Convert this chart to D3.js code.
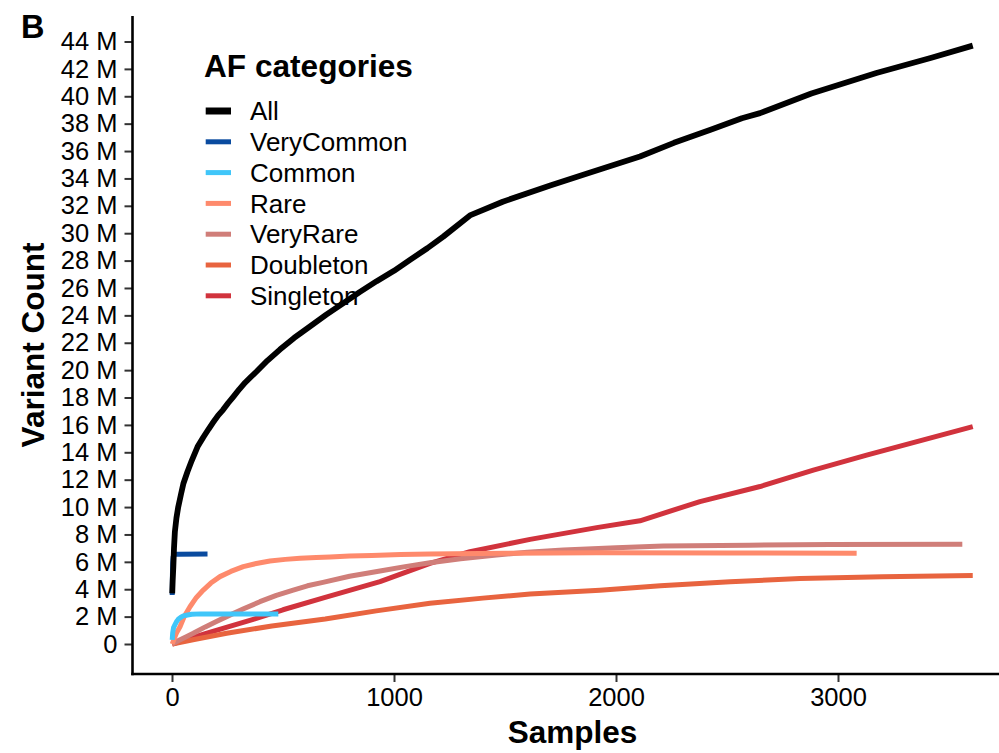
<!DOCTYPE html>
<html>
<head>
<meta charset="utf-8">
<script src="https://cdn.jsdelivr.net/npm/d3@7"></script>
<style>
  body { margin: 0; background: #fff; }
  svg { font-family: "Liberation Sans", Arial, Helvetica, sans-serif; }
</style>
</head>
<body>
<div id="chart"></div>
<script>
// AF category names (legend order) and their colours
const categories = ["All", "VeryCommon", "Common", "Rare", "VeryRare", "Doubleton", "Singleton"];
const colors = ["#000000", "#0a4b9f", "#40c6f9", "#fe8a6c", "#d07e79", "#e8643f", "#d1333d"];

// [samples, variant count in millions]
const allPts = [[1,3.7],[3,4.6],[6,5.65],[9,7.0],[13,8.2],[20,9.2],[28,10.0],[40,10.9],[51,11.7],
  [70,12.6],[89,13.4],[115,14.4],[141,15.1],[165,15.7],[186,16.2],[208,16.7],[230,17.1],[253,17.6],
  [276,18.05],[303,18.6],[330,19.1],[355,19.5],[381,19.9],[430,20.7],[486,21.5],[550,22.35],
  [622,23.2],[695,24.05],[772,24.9],[845,25.7],[922,26.5],[1000,27.25],[1072,28.05],[1150,28.9],
  [1222,29.75],[1342,31.3],[1490,32.3],[1707,33.5],[1877,34.4],[2108,35.6],[2261,36.6],[2426,37.55],
  [2567,38.4],[2649,38.77],[2880,40.2],[3173,41.7],[3417,42.8],[3607,43.7]];
const veryCommonPts = [[1,3.58],[2,5.0],[3,5.9],[5,6.35],[8,6.5],[14,6.55],[30,6.56],[160,6.57]];
const commonPts = [[1,0.3],[3,0.8],[7,1.2],[13,1.4],[20,1.62],[28,1.8],[40,1.95],[51,2.05],[70,2.12],
  [89,2.17],[130,2.2],[250,2.2],[479,2.19]];
const rarePts = [[1,0],[10,0.4],[20,0.8],[36,1.26],[55,2.0],[81,2.72],[110,3.4],[141,3.94],[175,4.45],
  [216,4.92],[265,5.3],[321,5.65],[380,5.88],[441,6.06],[510,6.18],[577,6.26],[650,6.32],[712,6.36],
  [800,6.42],[900,6.47],[1030,6.53],[1162,6.57],[1500,6.63],[1913,6.67],[2500,6.65],[3084,6.63]];
const veryRarePts = [[1,0],[30,0.25],[60,0.5],[96,0.78],[150,1.25],[200,1.65],[246,2.0],[320,2.55],
  [396,3.09],[470,3.55],[546,3.94],[610,4.25],[680,4.5],[800,4.95],[937,5.33],[1050,5.65],[1162,5.93],
  [1300,6.22],[1462,6.5],[1600,6.7],[1763,6.86],[2000,7.03],[2213,7.15],[2600,7.22],[2964,7.26],
  [3560,7.29]];
const doubletonPts = [[1,0],[100,0.33],[246,0.78],[450,1.32],[690,1.82],[920,2.42],[1162,2.97],
  [1400,3.35],[1613,3.65],[1928,3.93],[2200,4.25],[2514,4.55],[2829,4.78],[3200,4.92],[3607,5.0]];
const singletonPts = [[1,0],[150,0.75],[366,1.8],[500,2.5],[690,3.4],[937,4.55],[1162,5.89],[1342,6.74],
  [1613,7.64],[1913,8.5],[2108,9.0],[2378,10.4],[2649,11.5],[2889,12.7],[3129,13.8],[3607,15.87]];

const seriesPts = [allPts, veryCommonPts, commonPts, rarePts, veryRarePts, doubletonPts, singletonPts];

const xTicks = [0, 1000, 2000, 3000];
const yTicks = d3.range(0, 45, 2);

const width = 999, height = 753;
const panel = {left: 132.5, right: 999, top: 16, bottom: 674};

const svg = d3.select("#chart").append("svg")
  .attr("width", width)
  .attr("height", height);

const x = d3.scaleLinear().domain([0, 3000]).range([172, 838]);
const y = d3.scaleLinear().domain([0, 44]).range([644, 41.5]);

// lines, drawn last-category first so "All" ends up on top
const line = d3.line()
  .x(d => x(d[0]))
  .y(d => y(d[1]));

const series = categories.map((name, i) => ({name, color: colors[i], pts: seriesPts[i]}));

svg.append("g")
  .selectAll("path")
  .data(series.slice().reverse())
  .join("path")
  .attr("fill", "none")
  .attr("stroke", d => d.color)
  .attr("stroke-width", d => d.name === "All" ? 5.8 : 5)
  .attr("stroke-linejoin", "round")
  .attr("d", d => line(d.pts));

// y axis
const yAxis = svg.append("g")
  .attr("transform", `translate(${panel.left},0)`)
  .call(d3.axisLeft(y).tickValues(yTicks).tickSize(8).tickPadding(7)
    .tickFormat(d => d === 0 ? "0" : d + " M"));
yAxis.select(".domain").remove();
yAxis.selectAll(".tick line").attr("stroke", "#333").attr("stroke-width", 2);
yAxis.selectAll(".tick text")
  .attr("fill", "#000")
  .style("font-size", "25.5px");

// x axis
const xAxis = svg.append("g")
  .attr("transform", `translate(0,${panel.bottom})`)
  .call(d3.axisBottom(x).tickValues(xTicks).tickSize(8).tickPadding(6).tickFormat(d3.format("d")));
xAxis.select(".domain").remove();
xAxis.selectAll(".tick line").attr("stroke", "#333").attr("stroke-width", 2);
xAxis.selectAll(".tick text")
  .attr("fill", "#000")
  .style("font-size", "25.5px");

// axis lines (theme_classic)
svg.append("line")
  .attr("x1", panel.left).attr("x2", panel.left)
  .attr("y1", panel.top).attr("y2", panel.bottom + 1.2)
  .attr("stroke", "#000").attr("stroke-width", 2.6);
svg.append("line")
  .attr("x1", panel.left - 1.3).attr("x2", panel.right)
  .attr("y1", panel.bottom).attr("y2", panel.bottom)
  .attr("stroke", "#000").attr("stroke-width", 2.6);

// axis titles
svg.append("text")
  .attr("transform", "translate(43.5,345) rotate(-90)")
  .attr("text-anchor", "middle")
  .style("font-size", "31.5px")
  .style("font-weight", "bold")
  .text("Variant Count");

svg.append("text")
  .attr("x", 572.5)
  .attr("y", 743)
  .attr("text-anchor", "middle")
  .style("font-size", "31.5px")
  .style("font-weight", "bold")
  .text("Samples");

// panel tag
svg.append("text")
  .attr("x", 21)
  .attr("y", 38.3)
  .style("font-size", "32.5px")
  .style("font-weight", "bold")
  .text("B");

// legend
const legend = svg.append("g");
legend.append("text")
  .attr("x", 204)
  .attr("y", 76.7)
  .style("font-size", "31.6px")
  .style("font-weight", "bold")
  .text("AF categories");

const item = legend.selectAll("g.item")
  .data(series)
  .join("g")
  .attr("class", "item")
  .attr("transform", (d, i) => `translate(0,${111 + i * 30.8})`);

item.append("line")
  .attr("x1", 205.7).attr("x2", 231)
  .attr("stroke", d => d.color)
  .attr("stroke-width", d => d.name === "All" ? 7 : 5);

item.append("text")
  .attr("x", 250)
  .attr("dy", "0.35em")
  .style("font-size", "26px")
  .text(d => d.name);
</script>
</body>
</html>
